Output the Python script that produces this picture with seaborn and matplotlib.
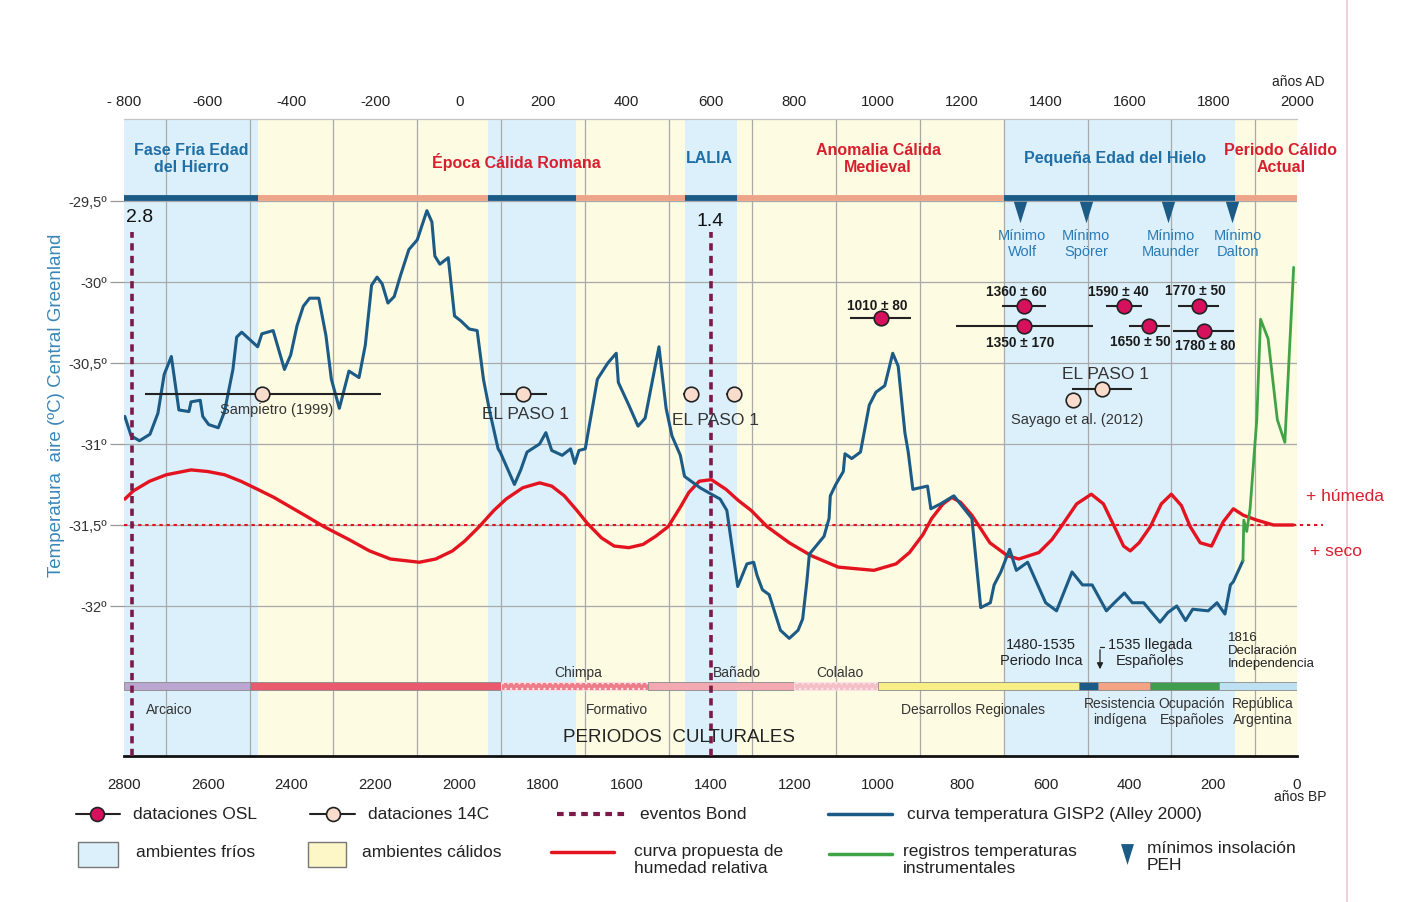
import numpy as np
import pandas as pd
import matplotlib
matplotlib.use("Agg")
import matplotlib.pyplot as plt
import seaborn as sns
from matplotlib.lines import Line2D
from matplotlib.patches import Rectangle, FancyArrowPatch

# ---------------- data ----------------
# climatic periods (años AD)
band_start = [-800, -480, 70, 280, 538, 663, 1300, 1853]
band_end = [-480, 70, 280, 538, 663, 1300, 1853, 2000]
band_kind = ['frio', 'calido', 'frio', 'calido', 'frio', 'calido', 'frio', 'calido']

# GISP2 temperature curve (Alley 2000)
gisp2_year = [-798, -783, -763, -738, -719, -704, -687, -669, -645, -640, -618, -612, -598, -575,
              -560, -540, -531, -519, -481, -471, -444, -417, -402, -387, -372, -357, -335, -318,
              -305, -286, -263, -239, -224, -209, -196, -184, -170, -155, -140, -120, -100, -77,
              -65, -58, -46, -26, -11, 4, 24, 43, 58, 73, 93, 98, 132, 147, 162, 192, 207, 221,
              246, 266, 276, 286, 301, 330, 355, 375, 380, 405, 427, 444, 477, 494, 508, 528, 538,
              575, 602, 623, 639, 665, 676, 687, 703, 711, 724, 740, 767, 788, 809, 820, 830, 836,
              852, 871, 883, 886, 899, 917, 921, 937, 958, 979, 995, 1016, 1035, 1048, 1064, 1072,
              1083, 1118, 1126, 1149, 1181, 1224, 1245, 1268, 1277, 1293, 1314, 1330, 1357, 1400,
              1426, 1463, 1488, 1511, 1545, 1564, 1588, 1607, 1634, 1650, 1673, 1692, 1713, 1734,
              1751, 1788, 1809, 1828, 1841, 1848, 1871]
gisp2_temp = [-30.83, -30.95, -30.98, -30.94, -30.81, -30.57, -30.46, -30.79, -30.80, -30.74, -30.73,
              -30.83, -30.88, -30.90, -30.80, -30.54, -30.34, -30.31, -30.40, -30.32, -30.30, -30.54,
              -30.45, -30.27, -30.15, -30.10, -30.10, -30.33, -30.60, -30.78, -30.55, -30.59, -30.39,
              -30.02, -29.97, -30.01, -30.13, -30.09, -29.96, -29.80, -29.74, -29.56, -29.63, -29.84,
              -29.89, -29.85, -30.21, -30.24, -30.29, -30.30, -30.60, -30.80, -31.03, -31.05, -31.25,
              -31.16, -31.05, -31.00, -30.93, -31.04, -31.07, -31.03, -31.12, -31.04, -31.03, -30.60,
              -30.50, -30.44, -30.62, -30.76, -30.89, -30.84, -30.40, -30.78, -30.95, -31.07, -31.20,
              -31.27, -31.31, -31.34, -31.41, -31.88, -31.81, -31.74, -31.73, -31.81, -31.90, -31.93,
              -32.15, -32.20, -32.15, -32.08, -31.85, -31.68, -31.63, -31.57, -31.46, -31.32, -31.25,
              -31.17, -31.06, -31.09, -31.05, -30.76, -30.68, -30.64, -30.44, -30.52, -30.93, -31.05,
              -31.28, -31.26, -31.40, -31.37, -31.32, -31.46, -32.01, -31.98, -31.87, -31.79, -31.65,
              -31.78, -31.73, -31.98, -32.03, -31.79, -31.87, -31.87, -32.03, -31.98, -31.92, -31.98,
              -31.98, -32.03, -32.10, -32.04, -32.00, -32.09, -32.02, -32.03, -31.98, -32.05, -31.87,
              -31.85, -31.72]

# instrumental temperature records
instr_year = [1871, 1873, 1880, 1888, 1904, 1913, 1931, 1953, 1971, 1992]
instr_temp = [-31.72, -31.47, -31.54, -31.40, -30.85, -30.23, -30.35, -30.85, -30.99, -29.91]

# proposed relative-humidity curve (drawn on the temperature scale)
hum_year = [-798, -778, -739, -699, -640, -600, -560, -521, -481, -442, -402, -362, -323, -263, -214,
            -164, -95, -56, -16, 13, 48, 83, 112, 152, 192, 221, 251, 281, 306, 340, 370, 405, 439,
            469, 499, 528, 548, 573, 602, 637, 667, 697, 735, 788, 841, 905, 990, 1043, 1075, 1107,
            1128, 1155, 1176, 1197, 1224, 1267, 1309, 1336, 1384, 1415, 1437, 1474, 1509, 1538,
            1564, 1586, 1602, 1623, 1650, 1676, 1700, 1724, 1745, 1769, 1796, 1824, 1848, 1872,
            1904, 1944, 1991]
hum_val = [-31.34, -31.29, -31.23, -31.19, -31.16, -31.17, -31.19, -31.23, -31.28, -31.33, -31.39,
           -31.45, -31.51, -31.59, -31.66, -31.71, -31.73, -31.71, -31.66, -31.60, -31.51, -31.41,
           -31.34, -31.27, -31.24, -31.26, -31.32, -31.41, -31.49, -31.58, -31.63, -31.64, -31.62,
           -31.57, -31.51, -31.39, -31.30, -31.23, -31.22, -31.28, -31.35, -31.41, -31.51, -31.61,
           -31.69, -31.76, -31.78, -31.74, -31.67, -31.56, -31.46, -31.37, -31.33, -31.36, -31.44,
           -31.61, -31.69, -31.71, -31.67, -31.59, -31.51, -31.37, -31.31, -31.37, -31.51, -31.63,
           -31.66, -31.61, -31.51, -31.37, -31.31, -31.38, -31.51, -31.61, -31.63, -31.48, -31.40,
           -31.44, -31.47, -31.50, -31.50]

# Bond events (años AD) and labels
bond_year = [-780, 600]
bond_label = ['2.8', '1.4']

# OSL datings
osl_year = [1006, 1348, 1348, 1586, 1647, 1766, 1777]
osl_temp = [-30.22, -30.15, -30.27, -30.15, -30.27, -30.15, -30.30]
osl_lo = [934, 1295, 1185, 1545, 1598, 1717, 1703]
osl_hi = [1078, 1400, 1514, 1630, 1697, 1815, 1849]
osl_label = ['1010 ± 80', '1360 ± 60', '1350 ± 170', '1590 ± 40', '1650 ± 50', '1770 ± 50', '1780 ± 80']

# 14C datings
c14_year = [-471, 152, 553, 655, 1535, 1466]
c14_temp = [-30.69, -30.69, -30.69, -30.69, -30.66, -30.73]
c14_lo = [-750, 98, 535, 637, 1463, 1466]
c14_hi = [-186, 210, 571, 673, 1605, 1466]

# solar insolation minima (PEH)
insol_year = [1339, 1496, 1692, 1844]
insol_name = ['Mínimo\nWolf', 'Mínimo\nSpörer', 'Mínimo\nMaunder', 'Mínimo\nDalton']

# cultural periods (años BP on the lower scale)
culture_bp_start = [2800, 2500, 1900, 1550, 1200, 1000, 520, 475, 350, 185]
culture_bp_end = [2500, 1900, 1550, 1200, 1000, 520, 475, 350, 185, 0]
culture_color = ['#bba6cf', '#ea5a6e', '#ec7d89', '#f3a9b1', '#f4bfc7', '#f7ef86', '#1b5b86',
                 '#f4a384', '#3f9d4d', '#bee0f3']
culture_hatch = [None, None, '...', None, '...', None, None, None, None, None]

ad_ticks = list(range(-800, 2001, 200))
ad_ticklabels = ['- 800'] + [str(v) for v in ad_ticks[1:]]
bp_ticks = list(range(2800, -1, -200))
temp_ticks = [-29.5, -30.0, -30.5, -31.0, -31.5, -32.0]
temp_ticklabels = ['-29,5º', '-30º', '-30,5º', '-31º', '-31,5º', '-32º']

# ---------------- style ----------------
sns.set_theme(style="white")
plt.rcParams['font.family'] = ['Liberation Sans', 'DejaVu Sans']
plt.rcParams['hatch.linewidth'] = 0.9

C_COLD = '#dcf0fb'
C_WARM = '#fdfbe2'
C_DBLUE = '#1b5b86'
C_SALMON = '#eea488'
C_RED = '#e3141f'
C_GREEN = '#40a346'
C_BOND = '#7b1a48'
C_OSL = '#d6105c'
C_14C = '#f9dccb'
C_TBLUE = '#1f6ea5'
C_TRED = '#d81f2e'

fig = plt.figure(figsize=(14.07, 9.03), dpi=100)
ax = fig.add_axes([124 / 1407, 1 - 757 / 903, 1173 / 1407, 637 / 903])
ax.set_xlim(-800, 2000)
ax.set_ylim(-32.926, -28.994)


def fx(x):
    return x / 1407


def fy(y):
    return 1 - y / 903


def ftext(x, y, s, **kw):
    kw.setdefault('ha', 'center')
    kw.setdefault('va', 'center')
    fig.text(fx(x), fy(y), s, **kw)


# background bands
for s, e, k in zip(band_start, band_end, band_kind):
    ax.axvspan(s, e, color=C_COLD if k == 'frio' else C_WARM, zorder=0, lw=0)

# grid
ax.set_axisbelow(True)
ax.set_xticks(range(-800, 2001, 100), minor=True)
ax.grid(which='minor', axis='x', color='#a9a9a9', lw=0.9)
ax.set_yticks(temp_ticks)
ax.set_yticklabels(temp_ticklabels)
ax.grid(which='major', axis='y', color='#a9a9a9', lw=0.9)
ax.grid(which='major', axis='x', visible=False)

# top axis (años AD)
ax.xaxis.tick_top()
ax.set_xticks(ad_ticks)
ax.set_xticklabels(ad_ticklabels)
ax.tick_params(axis='x', which='both', length=0, pad=8, labelsize=10.8, labelcolor='#222222')
ax.tick_params(axis='y', length=10, width=0.9, color='#999999', pad=2, labelsize=10.5,
               labelcolor='#333333', left=True)

for sp in ['left', 'right']:
    ax.spines[sp].set_visible(False)
ax.spines['top'].set_color('#c4c4c4')
ax.spines['top'].set_linewidth(0.9)
ax.spines['bottom'].set_color('#111111')
ax.spines['bottom'].set_linewidth(2)

# bottom axis (años BP)
secax = ax.secondary_xaxis('bottom', functions=(lambda a: 2000 - a, lambda b: 2000 - b))
secax.set_xticks(bp_ticks)
secax.set_xticklabels([str(v) for v in bp_ticks])
secax.tick_params(length=0, pad=15, labelsize=10.8, labelcolor='#222222')
secax.spines['bottom'].set_visible(False)

# climate bar on top (-29.5)
ax.hlines([-29.48] * len(band_start), band_start, band_end,
          colors=[C_DBLUE if k == 'frio' else C_SALMON for k in band_kind], lw=4.2, zorder=3)

# humidity reference line
ax.axhline(-31.5, xmin=0, xmax=1.022, color=C_RED, ls=(0, (1.6, 1.8)), lw=1.5, clip_on=False, zorder=2)

# curves
sns.lineplot(x=hum_year, y=hum_val, ax=ax, color=C_RED, lw=2.4, sort=False, estimator=None, zorder=4)
sns.lineplot(x=gisp2_year, y=gisp2_temp, ax=ax, color=C_DBLUE, lw=2.2, sort=False, estimator=None,
             zorder=5)
sns.lineplot(x=instr_year, y=instr_temp, ax=ax, color=C_GREEN, lw=2.0, sort=False, estimator=None,
             zorder=5)

# Bond events
ax.vlines(bond_year, -32.926, -29.69, colors=C_BOND, lw=2.6, linestyles=[(0, (2.0, 1.5))], zorder=6)
for lab, (xp, yp) in zip(bond_label, [(140, 218), (710, 222)]):
    ftext(xp, yp, lab, fontsize=14, color='#111111')

# dating error bars and symbols
ax.hlines(osl_temp, osl_lo, osl_hi, colors='#222222', lw=1.5, zorder=6)
sns.scatterplot(x=osl_year, y=osl_temp, ax=ax, s=110, color=C_OSL, edgecolor='#222222', linewidth=1.2,
                zorder=7, legend=False)
ax.hlines(c14_temp, c14_lo, c14_hi, colors='#222222', lw=1.5, zorder=6)
sns.scatterplot(x=c14_year, y=c14_temp, ax=ax, s=110, color=C_14C, edgecolor='#222222', linewidth=1.2,
                zorder=7, legend=False)

# insolation minima
tri = [(-0.62, 1.0), (0.62, 1.0), (0.0, -1.0)]
ax.scatter(insol_year, [-29.57] * len(insol_year), marker=tri, s=240, color=C_DBLUE, zorder=7,
           linewidths=0)

# cultural periods band
left = [2000 - b for b in culture_bp_start]
width = [(2000 - e) - (2000 - s) for s, e in zip(culture_bp_start, culture_bp_end)]
bars = ax.barh([-32.494] * len(left), width, left=left, height=0.045, color=culture_color,
               edgecolor='#8a8a8a', linewidth=0.6, zorder=3)
for b, h in zip(bars, culture_hatch):
    if h:
        b.set_hatch(h)
        b.set_edgecolor('#fbe4e8')

# ---------------- texts ----------------
bold = dict(fontweight='bold', fontsize=11.5, linespacing=1.2)
ftext(191, 159, 'Fase Fria Edad\ndel Hierro', color=C_TBLUE, **bold)
ftext(516, 162, 'Época Cálida Romana', color=C_TRED, **bold)
ftext(709, 159, 'LALIA', color=C_TBLUE, **bold)
ftext(878, 159, 'Anomalia Cálida\nMedieval', color=C_TRED, **bold)
ftext(1115, 159, 'Pequeña Edad del Hielo', color=C_TBLUE, **bold)
ftext(1281, 159, 'Periodo Cálido\nActual', color=C_TRED, **bold)

for name, xp in zip(insol_name, [1022, 1086, 1171, 1238]):
    ftext(xp, 244, name, color='#2a7ab5', fontsize=10.5, linespacing=1.15)

for lab, (xp, yp) in zip(osl_label, [(877, 306), (1016, 292), (1020, 343), (1118, 292), (1140, 342),
                                     (1195, 291), (1205, 346)]):
    ftext(xp, yp, lab, fontsize=9.8, fontweight='bold', color='#1a1a1a')

ftext(277, 410, 'Sampietro (1999)', fontsize=10.5, color='#333333')
ftext(525, 415, 'EL PASO 1', fontsize=12.5, color='#333333')
ftext(715, 421, 'EL PASO 1', fontsize=12.5, color='#333333')
ftext(1106, 375, 'EL PASO 1', fontsize=12.5, color='#333333')
ftext(1077, 420, 'Sayago et al. (2012)', fontsize=10.5, color='#333333')

ftext(1306, 497, '+ húmeda', ha='left', fontsize=12.5, color=C_TRED)
ftext(1310, 551, '+ seco', ha='left', fontsize=12.5, color=C_TRED)

cul = dict(fontsize=10, color='#333333', linespacing=1.1)
ftext(578, 673, 'Chimpa', **cul)
ftext(713, 673, 'Bañado', ha='left', **cul)
ftext(840, 673, 'Colalao', **cul)
ftext(146, 710, 'Arcaico', ha='left', **cul)
ftext(617, 710, 'Formativo', **cul)
ftext(973, 710, 'Desarrollos Regionales', **cul)
ftext(1120, 712, 'Resistencia\nindígena', **cul)
ftext(1192, 712, 'Ocupación\nEspañoles', **cul)
ftext(1263, 712, 'República\nArgentina', **cul)
ftext(679, 737, 'PERIODOS  CULTURALES', fontsize=13.5, color='#222222')
ftext(1041, 653, '1480-1535\nPeriodo Inca', fontsize=10.5, color='#222222', linespacing=1.2)
ftext(1150, 653, '1535 llegada\nEspañoles', fontsize=10.5, color='#222222', linespacing=1.2)
ftext(1228, 651, '1816\nDeclaración\nIndependencia', ha='left', fontsize=9.5, color='#222222',
      linespacing=1.12)
fig.add_artist(Line2D([fx(1100), fx(1104)], [fy(648), fy(648)], color='#222222', lw=0.9))
fig.add_artist(FancyArrowPatch((fx(1100), fy(648)), (fx(1100), fy(673)), transform=fig.transFigure,
                               arrowstyle='-|>', mutation_scale=9, color='#222222', lw=0.9))

ftext(1298, 82, 'años AD', fontsize=10, color='#222222')
ftext(1300, 797, 'años BP', fontsize=10, color='#222222')
ftext(57, 405, 'Temperatura  aire (ºC) Central Greenland', rotation=90, fontsize=13.5, color='#3a86b8')

# ---------------- legend (drawn in figure space) ----------------
lg = dict(fontsize=12.5, color='#222222', ha='left', linespacing=1.2)
y1 = 815
fig.add_artist(Line2D([fx(76), fx(120)], [fy(y1), fy(y1)], color='#222222', lw=1.5))
fig.add_artist(Line2D([fx(97)], [fy(y1)], marker='o', ms=10, mfc=C_OSL, mec='#222222', mew=1.2))
ftext(133, y1, 'dataciones OSL', **lg)
fig.add_artist(Line2D([fx(310), fx(355)], [fy(y1), fy(y1)], color='#222222', lw=1.5))
fig.add_artist(Line2D([fx(333)], [fy(y1)], marker='o', ms=10, mfc=C_14C, mec='#222222', mew=1.2))
ftext(368, y1, 'dataciones 14C', **lg)
fig.add_artist(Line2D([fx(557), fx(625)], [fy(y1), fy(y1)], color=C_BOND, lw=3, ls=(0, (1.6, 1.3))))
ftext(640, y1, 'eventos Bond', **lg)
fig.add_artist(Line2D([fx(828), fx(892)], [fy(y1), fy(y1)], color=C_DBLUE, lw=2.5))
ftext(907, y1, 'curva temperatura GISP2 (Alley 2000)', **lg)

fig.add_artist(Rectangle((fx(78), fy(868)), fx(40), 25 / 903, transform=fig.transFigure,
                         facecolor=C_COLD, edgecolor='#777777', lw=1))
ftext(136, 853, 'ambientes fríos', **lg)
fig.add_artist(Rectangle((fx(308), fy(868)), fx(38), 25 / 903, transform=fig.transFigure,
                         facecolor='#fdf6c6', edgecolor='#777777', lw=1))
ftext(362, 853, 'ambientes cálidos', **lg)
fig.add_artist(Line2D([fx(551), fx(614)], [fy(853), fy(853)], color=C_RED, lw=2.5))
ftext(634, 860, 'curva propuesta de\nhumedad relativa', **lg)
fig.add_artist(Line2D([fx(829), fx(892)], [fy(855), fy(855)], color=C_GREEN, lw=2.5))
ftext(903, 860, 'registros temperaturas\ninstrumentales', **lg)
fig.add_artist(Line2D([fx(1127)], [fy(855)], marker=tri, ms=15, color=C_DBLUE, lw=0, mew=0))
ftext(1147, 857, 'mínimos insolación\nPEH', **lg)

# page border
fig.add_artist(Line2D([fx(1347), fx(1347)], [0, 1], color='#ecc6d2', lw=1.2))

fig.savefig('out.png', dpi=100, facecolor='white')
